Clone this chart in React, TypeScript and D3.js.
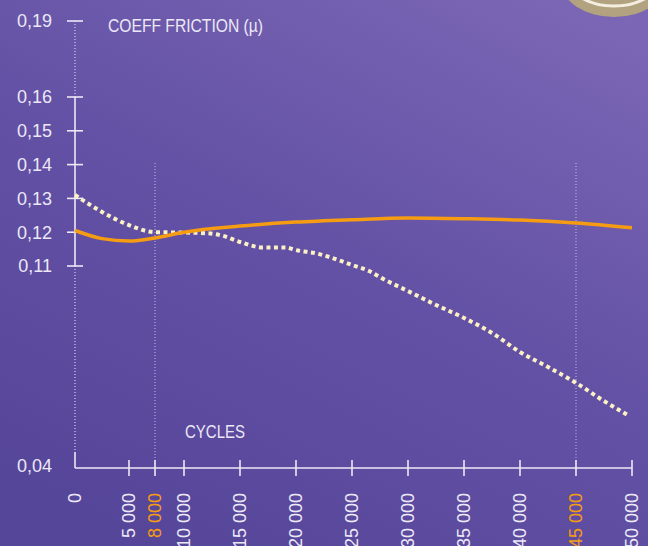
import React, { useEffect, useRef } from "react";
import * as d3 from "d3";

// ticks on the cycles axis
const cycleTicks = [5000, 8000, 10000, 15000, 20000, 25000, 30000, 35000, 40000, 45000, 50000];
const cycleLabels = ["0", "5 000", "8 000", "10 000", "15 000", "20 000", "25 000", "30 000", "35 000", "40 000", "45 000", "50 000"];
const labelCycles = [0, 5000, 8000, 10000, 15000, 20000, 25000, 30000, 35000, 40000, 45000, 50000];
const highlightCycles = [8000, 45000];

const muTicks = [0.19, 0.16, 0.15, 0.14, 0.13, 0.12, 0.11];
const muLabels = ["0,19", "0,16", "0,15", "0,14", "0,13", "0,12", "0,11", "0,04"];
const muLabelValues = [0.19, 0.16, 0.15, 0.14, 0.13, 0.12, 0.11, 0.04];

// orange solid curve
const solidCycles = [0, 2500, 5000, 8000, 10000, 15000, 20000, 25000, 30000, 35000, 40000, 45000, 50000];
const solidMu = [0.1205, 0.1181, 0.1174, 0.1183, 0.12, 0.1218, 0.123, 0.1237, 0.1242, 0.124, 0.1236, 0.1227, 0.1213];

// dotted curve
const dottedCycles = [0, 2500, 5000, 8000, 10000, 12000, 13500, 15000, 17000, 19000, 20000, 22000, 24000, 25000, 26500, 27800, 30000, 32500, 35000, 37500, 40000, 42500, 45000, 47500, 49600];
const dottedMu = [0.131, 0.126, 0.1221, 0.12, 0.1199, 0.1197, 0.1189, 0.1171, 0.1155, 0.1155, 0.1147, 0.1136, 0.1115, 0.1103, 0.1083, 0.1055, 0.1013, 0.0965, 0.092, 0.0868, 0.0802, 0.075, 0.0695, 0.0632, 0.0584];

const W = 648, H = 546;
const FONT = "'Liberation Sans', Arial, sans-serif";
const TXT = "#ece8f6";
const ORANGE = "#f59c12";
const CREAM = "#fbf1c4";

export default function App() {
  const ref = useRef<SVGSVGElement>(null);

  useEffect(() => {
    const svg = d3.select(ref.current);
    svg.selectAll("*").remove();

    // broken axes: scales are piecewise
    const x = d3.scaleLinear().domain([0, 5000, 8000, 10000, 50000]).range([75, 129, 155, 184, 632]);
    const y = d3.scaleLinear().domain([0.04, 0.11, 0.16, 0.19]).range([468, 266, 97, 21]);

    const defs = svg.append("defs");
    const bg = defs.append("linearGradient").attr("id", "bg")
      .attr("x1", "25%").attr("y1", "100%").attr("x2", "85%").attr("y2", "0%");
    bg.append("stop").attr("offset", "0%").attr("stop-color", "#56469a");
    bg.append("stop").attr("offset", "50%").attr("stop-color", "#6351a5");
    bg.append("stop").attr("offset", "100%").attr("stop-color", "#7a66b4");

    svg.append("rect").attr("width", W).attr("height", H).attr("fill", "url(#bg)");

    // bit of the ring peeking in, top right
    svg.append("ellipse").attr("cx", 614).attr("cy", -20).attr("rx", 54).attr("ry", 37).attr("fill", "#b3a27f");
    svg.append("ellipse").attr("cx", 614).attr("cy", -22).attr("rx", 46).attr("ry", 28)
      .attr("fill", "none").attr("stroke", "#f4eee0").attr("stroke-width", 3);
    svg.append("ellipse").attr("cx", 614).attr("cy", -24).attr("rx", 42).attr("ry", 23).attr("fill", "#8a7a5e");

    const g = svg.append("g").style("font-family", FONT);

    // vertical dotted guides
    highlightCycles.forEach(c => {
      g.append("line").attr("x1", x(c)).attr("x2", x(c)).attr("y1", 163).attr("y2", y(0.04))
        .attr("stroke", TXT).attr("stroke-opacity", 0.7).attr("stroke-width", 1).attr("stroke-dasharray", "1 2");
    });

    // y axis pieces
    const ax = x(0);
    g.append("line").attr("x1", ax).attr("x2", ax).attr("y1", y(0.19)).attr("y2", y(0.16))
      .attr("stroke", TXT).attr("stroke-width", 1).attr("stroke-dasharray", "1 2");
    g.append("line").attr("x1", ax).attr("x2", ax).attr("y1", y(0.16)).attr("y2", y(0.11))
      .attr("stroke", TXT).attr("stroke-width", 1.6);
    g.append("line").attr("x1", ax).attr("x2", ax).attr("y1", y(0.11)).attr("y2", y(0.04) - 16)
      .attr("stroke", TXT).attr("stroke-width", 1).attr("stroke-dasharray", "1 2");
    g.append("line").attr("x1", ax).attr("x2", ax).attr("y1", y(0.04) - 16).attr("y2", y(0.04))
      .attr("stroke", TXT).attr("stroke-width", 1.6);
    g.selectAll(".ytick").data(muTicks).enter().append("line")
      .attr("x1", ax - 8).attr("x2", ax + 8).attr("y1", d => y(d)).attr("y2", d => y(d))
      .attr("stroke", TXT).attr("stroke-width", 1.6);
    g.selectAll(".ylab").data(muLabelValues).enter().append("text")
      .attr("x", 52).attr("y", (d, i) => y(d) + (i === 7 ? -2 : 0)).attr("dy", "0.35em")
      .attr("text-anchor", "end").attr("fill", TXT).attr("font-size", 18)
      .text((d, i) => muLabels[i]);

    // x axis
    g.append("line").attr("x1", ax).attr("x2", x(50000)).attr("y1", y(0.04)).attr("y2", y(0.04))
      .attr("stroke", TXT).attr("stroke-width", 1.6);
    g.selectAll(".xtick").data(cycleTicks).enter().append("line")
      .attr("x1", d => x(d)).attr("x2", d => x(d)).attr("y1", y(0.04) - 8).attr("y2", y(0.04) + 8)
      .attr("stroke", TXT).attr("stroke-width", 1.6);
    g.selectAll(".xlab").data(labelCycles).enter().append("text")
      .attr("transform", d => "translate(" + x(d) + ",493) rotate(-90)")
      .attr("dy", "0.35em").attr("text-anchor", "end").attr("font-size", 18)
      .attr("fill", d => highlightCycles.includes(d) ? ORANGE : TXT)
      .text((d, i) => cycleLabels[i]);

    // condensed look for the two titles
    g.append("text").attr("x", 108).attr("y", 32).attr("fill", TXT).attr("font-size", 19)
      .attr("textLength", 155).attr("lengthAdjust", "spacingAndGlyphs")
      .text("COEFF FRICTION (µ)");
    g.append("text").attr("x", 185).attr("y", 438).attr("fill", TXT).attr("font-size", 19)
      .attr("textLength", 60).attr("lengthAdjust", "spacingAndGlyphs")
      .text("CYCLES");

    const line = d3.line<number>().curve(d3.curveMonotoneX);

    g.append("path")
      .attr("d", line(dottedCycles.map((c, i) => [x(c), y(dottedMu[i])] as [number, number])))
      .attr("fill", "none").attr("stroke", CREAM).attr("stroke-width", 4)
      .attr("stroke-dasharray", "4 3.5");

    g.append("path")
      .attr("d", line(solidCycles.map((c, i) => [x(c), y(solidMu[i])] as [number, number])))
      .attr("fill", "none").attr("stroke", ORANGE).attr("stroke-width", 3.5);
  }, []);

  return <svg ref={ref} width={W} height={H} style={{ position: "absolute", left: 0, top: 0, display: "block" }} />;
}
